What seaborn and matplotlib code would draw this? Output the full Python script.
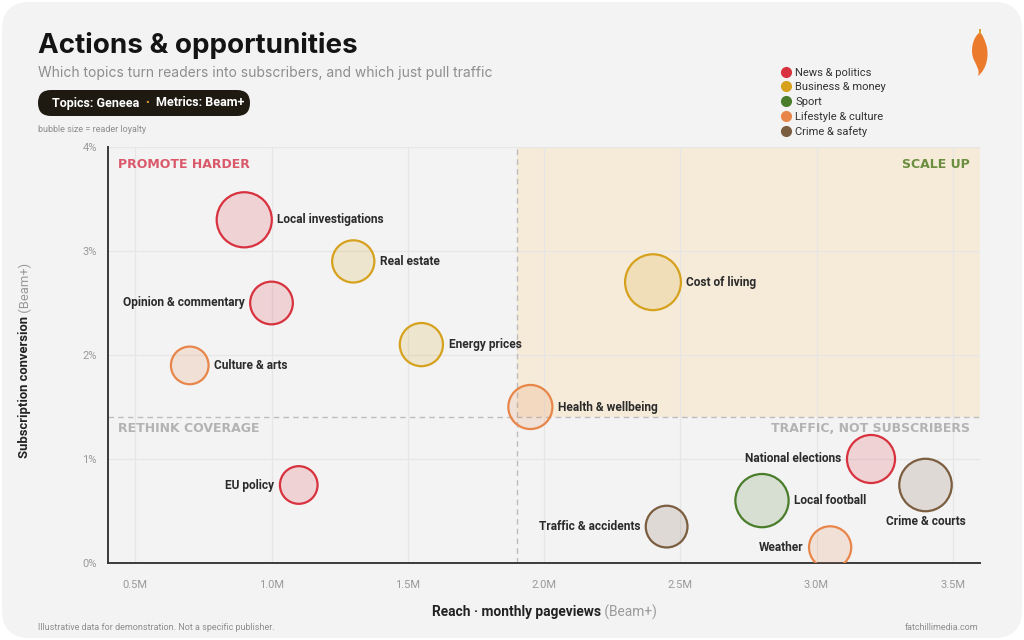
import numpy as np
import pandas as pd
import matplotlib
matplotlib.use("Agg")
import matplotlib.pyplot as plt
import seaborn as sns
from matplotlib.colors import to_rgba
from matplotlib.lines import Line2D
from matplotlib.patches import FancyBboxPatch, Rectangle, PathPatch
from matplotlib.path import Path

# -------------------------------
# Data
# -------------------------------
topics = ["Local investigations", "Real estate", "Opinion & commentary", "Energy prices",
          "Culture & arts", "Health & wellbeing", "Cost of living", "EU policy",
          "National elections", "Crime & courts", "Local football", "Traffic & accidents",
          "Weather"]
categories = ["News & politics", "Business & money", "News & politics", "Business & money",
              "Lifestyle & culture", "Lifestyle & culture", "Business & money", "News & politics",
              "News & politics", "Crime & safety", "Sport", "Crime & safety",
              "Lifestyle & culture"]
reach_m = [0.9, 1.3, 1.0, 1.55, 0.7, 1.95, 2.4, 1.1, 3.2, 3.4, 2.8, 2.45, 3.05]
conversion_pct = [3.3, 2.9, 2.5, 2.1, 1.9, 1.5, 2.7, 0.75, 1.0, 0.75, 0.6, 0.35, 0.15]
loyalty = [75, 44, 45, 46, 35, 48, 77, 35, 57, 68, 70, 43, 44]

category_order = ["News & politics", "Business & money", "Sport", "Lifestyle & culture", "Crime & safety"]
x_ticks = [0.5, 1.0, 1.5, 2.0, 2.5, 3.0, 3.5]
y_ticks = [0, 1, 2, 3, 4]
reach_split = 1.9
conversion_split = 1.4

# -------------------------------
# Styling
# -------------------------------
palette = {
    "News & politics": "#d8323f",
    "Business & money": "#d6a21e",
    "Sport": "#4a7d2b",
    "Lifestyle & culture": "#e8864a",
    "Crime & safety": "#7b5d40",
}
# label placement: r = right, l = left, b = below
label_side = {"Opinion & commentary": "l", "EU policy": "l", "National elections": "l",
              "Traffic & accidents": "l", "Weather": "l", "Crime & courts": "b"}

BG = "#f3f3f3"
DARK = "#222222"
GREY = "#9a9a9a"

sns.set_theme(style="white")
plt.rcParams["font.family"] = ["Roboto", "DejaVu Sans"]

df = pd.DataFrame({"topic": topics, "category": categories, "reach": reach_m,
                   "conversion": conversion_pct, "loyalty": loyalty})

fig = plt.figure(figsize=(10.24, 6.4), dpi=100, facecolor="white")

# rounded card background
fig.patches.append(FancyBboxPatch((0.02, 0.02), 10.2, 6.36,
                                  boxstyle="round,pad=0,rounding_size=0.28",
                                  transform=fig.dpi_scale_trans, fc=BG, ec="none", zorder=-10))

ax = fig.add_axes([108 / 1024, 77 / 640, 872 / 1024, 416 / 640])
ax.set_facecolor(BG)
ax.patch.set_alpha(0)

# quadrant shading
ax.add_patch(Rectangle((reach_split, conversion_split), 3.6 - reach_split, 4 - conversion_split,
                       fc="#f5ebd8", ec="none", zorder=0))
ax.axvline(reach_split, color="#bdbdbd", ls=(0, (4, 3)), lw=1, zorder=1)
ax.axhline(conversion_split, color="#bdbdbd", ls=(0, (4, 3)), lw=1, zorder=1)

sns.scatterplot(data=df, x="reach", y="conversion", hue="category", hue_order=category_order,
                palette=palette, size="loyalty", sizes=(0, 2100), size_norm=(0, 100),
                legend=False, ax=ax, zorder=3, linewidth=1.6)

coll = ax.collections[-1]
edge = [palette[c] for c in df["category"]]
coll.set_edgecolors(edge)
coll.set_facecolors([to_rgba(c, 0.17) for c in edge])
sizes = coll.get_sizes()

for i, row in df.iterrows():
    r = np.sqrt(sizes[i]) / 2 + 4
    side = label_side.get(row["topic"], "r")
    if side == "r":
        off, ha, va = (r, 0), "left", "center"
    elif side == "l":
        off, ha, va = (-r, 0), "right", "center"
    else:
        off, ha, va = (0, -r + 1), "center", "top"
    ax.annotate(row["topic"], (row["reach"], row["conversion"]), xytext=off,
                textcoords="offset points", ha=ha, va=va, fontsize=8.6,
                fontweight="bold", color="#2b2b2b", zorder=4)

ax.set_xlim(0.4, 3.6)
ax.set_ylim(0, 4)
ax.set_xticks(x_ticks)
ax.set_xticklabels([f"{v:.1f}M" for v in x_ticks])
ax.set_yticks(y_ticks)
ax.set_yticklabels([f"{v}%" for v in y_ticks])
ax.tick_params(axis="both", length=0, labelsize=8, labelcolor=GREY)
ax.tick_params(axis="x", pad=12)
ax.tick_params(axis="y", pad=8)
ax.grid(True, color="#e6e6e6", lw=0.9, zorder=0)
ax.set_axisbelow(True)
ax.set_xlabel("")
ax.set_ylabel("")
for s in ["top", "right"]:
    ax.spines[s].set_visible(False)
for s in ["left", "bottom"]:
    ax.spines[s].set_color("#3a3a3a")
    ax.spines[s].set_linewidth(1.4)

# quadrant labels
qkw = dict(transform=ax.transAxes, fontsize=9, fontweight="bold", family="DejaVu Sans", zorder=5)
ax.text(0.0115, 0.958, "PROMOTE HARDER", color="#d9596b", ha="left", va="center", **qkw)
ax.text(0.9885, 0.958, "SCALE UP", color="#6b8e3e", ha="right", va="center", **qkw)
ax.text(0.0115, 0.324, "RETHINK COVERAGE", color="#b3b3b3", ha="left", va="center", **qkw)
ax.text(0.9885, 0.324, "TRAFFIC, NOT SUBSCRIBERS", color="#b3b3b3", ha="right", va="center", **qkw)

# header
fig.text(38 / 1024, 1 - 53 / 640, "Actions & opportunities", fontsize=20, fontweight="bold",
         color="#141414", family=["Inter", "DejaVu Sans"], va="baseline")
fig.text(38 / 1024, 1 - 77 / 640, "Which topics turn readers into subscribers, and which just pull traffic",
         fontsize=10, color="#8e8e8e", family=["Inter", "DejaVu Sans"], va="baseline")

fig.patches.append(FancyBboxPatch((0.38, 5.24), 2.12, 0.26,
                                  boxstyle="round,pad=0,rounding_size=0.13",
                                  transform=fig.dpi_scale_trans, fc="#1e1a12", ec="none"))
fig.text(52 / 1024, 1 - 103 / 640, "Topics: Geneea", fontsize=9, fontweight="bold",
         color="white", va="center")
fig.text(147 / 1024, 1 - 103 / 640, "•", fontsize=8, color="#e8a33d", va="center", ha="center")
fig.text(156 / 1024, 1 - 103 / 640, "Metrics: Beam+", fontsize=9, fontweight="bold",
         color="white", va="center")
fig.text(38 / 1024, 1 - 130 / 640, "bubble size = reader loyalty", fontsize=6.5, color="#8e8e8e",
         va="center")

# legend
handles = [Line2D([], [], marker="o", ls="", markersize=7, markerfacecolor=palette[c],
                  markeredgecolor=palette[c], label=c) for c in category_order]
fig.legend(handles=handles, loc="upper left", bbox_to_anchor=(780 / 1024, 1 - 68 / 640),
           frameon=False, fontsize=8, labelspacing=0.39, handletextpad=0.35,
           handlelength=1.0, borderpad=0, borderaxespad=0, labelcolor="#333333")

# logo (small chilli)
verts = [(9.80, 6.08), (9.72, 6.02), (9.70, 5.88), (9.74, 5.80),
         (9.77, 5.73), (9.80, 5.70), (9.78, 5.64),
         (9.86, 5.70), (9.90, 5.84), (9.86, 5.96),
         (9.84, 6.02), (9.82, 6.06), (9.80, 6.08)]
codes = [Path.MOVETO, Path.CURVE4, Path.CURVE4, Path.CURVE4,
         Path.CURVE4, Path.CURVE4, Path.CURVE4,
         Path.CURVE4, Path.CURVE4, Path.CURVE4,
         Path.CURVE4, Path.CURVE4, Path.CURVE4]
fig.patches.append(PathPatch(Path(verts, codes), transform=fig.dpi_scale_trans,
                             fc="#ec7a2c", ec="none"))
fig.patches.append(Rectangle((9.785, 6.06), 0.03, 0.05, transform=fig.dpi_scale_trans,
                             fc="#d9a030", ec="none"))


# axis titles: bold part + grey part
def two_tone(x, y, bold, light, rotation=0, size=9):
    kw = dict(fontsize=size, rotation=rotation)
    if rotation == 0:
        t1 = fig.text(x, y, bold, fontweight="bold", color=DARK, ha="left", va="center", **kw)
        t2 = fig.text(x, y, " " + light, color=GREY, ha="left", va="center", **kw)
    else:
        t1 = fig.text(x, y, bold, fontweight="bold", color=DARK, ha="center", va="bottom", **kw)
        t2 = fig.text(x, y, " " + light, color=GREY, ha="center", va="bottom", **kw)
    rend = fig.canvas.get_renderer()
    b1 = t1.get_window_extent(rend)
    b2 = t2.get_window_extent(rend)
    W, H = fig.bbox.width, fig.bbox.height
    if rotation == 0:
        start = x * W - (b1.width + b2.width) / 2
        t1.set_x(start / W)
        t2.set_x((start + b1.width) / W)
    else:
        start = y * H - (b1.height + b2.height) / 2
        t1.set_y(start / H)
        t2.set_y((start + b1.height) / H)


two_tone(544 / 1024, 1 - 612 / 640, "Reach · monthly pageviews", "(Beam+)", size=9.9)
two_tone(25 / 1024, 1 - 360 / 640, "Subscription conversion", "(Beam+)", rotation=90, size=9.4)

# footer
fig.text(38 / 1024, 1 - 628 / 640, "Illustrative data for demonstration. Not a specific publisher.",
         fontsize=6.5, color="#8e8e8e", va="center")
fig.text(978 / 1024, 1 - 628 / 640, "fatchillimedia.com", fontsize=6.5, color="#8e8e8e",
         va="center", ha="right")

fig.savefig("out.png", dpi=100, facecolor="white")
